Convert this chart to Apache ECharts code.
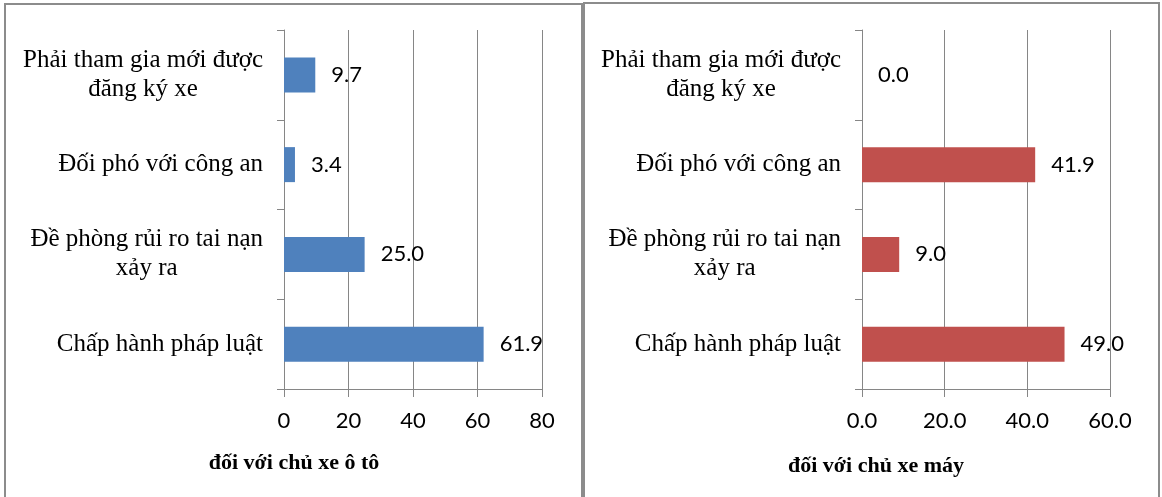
<!DOCTYPE html>
<html>
<head>
	<meta charset="UTF-8">
	<title>Lý do tham gia bảo hiểm</title>
	<script src="https://cdn.jsdelivr.net/npm/echarts@6/dist/echarts.min.js"></script>
	<style type="text/css">
		html, body {
			margin: 0;
			padding: 0;
			background: #ffffff;
		}
		#chart {
			width: 1162px;
			height: 497px;
		}
	</style>
</head>
<body>
	<div id="chart"></div>
	<script type="text/javascript">
		// du lieu (doc tu hinh)
		var categories = ['Phải tham gia mới được\nđăng ký xe', 'Đối phó với công an', 'Đề phòng rủi ro tai nạn\nxảy ra', 'Chấp hành pháp luật'];
		var otoValues = [9.7, 3.4, 25.0, 61.9];
		var xeMayValues = [0.0, 41.9, 9.0, 49.0];
		var otoTicks = [0, 20, 40, 60, 80];
		var xeMayTicks = [0, 20, 40, 60];
		var otoTitle = 'đối với chủ xe ô tô';
		var xeMayTitle = 'đối với chủ xe máy';

		var gray = '#868686';
		var serif = '"Liberation Serif", "Times New Roman", serif';
		var sans = 'Lato, "Open Sans", sans-serif';

		// nhan truc doc: moi dong canh giua, ca khoi canh phai
		var catLabel = function(val) {
			return val.split('\n').map(function(s) {
				return '{c|' + s + '}';
			}).join('\n');
		}

		var valueAxis = function(idx, ticks, fmt) {
			return {
				type: 'value',
				gridIndex: idx,
				min: ticks[0],
				max: ticks[ticks.length - 1],
				interval: ticks[1] - ticks[0],
				axisLine: { show: true, lineStyle: { color: gray, width: 1 } },
				axisTick: { show: true, length: 8, lineStyle: { color: gray } },
				splitLine: { show: true, lineStyle: { color: gray, width: 1 } },
				axisLabel: {
					margin: 21,
					color: '#000',
					fontSize: 22,
					fontFamily: sans,
					formatter: fmt
				}
			};
		}

		var catAxis = function(idx) {
			return {
				type: 'category',
				gridIndex: idx,
				inverse: true,
				data: categories,
				axisLine: { show: true, lineStyle: { color: gray, width: 1 } },
				axisTick: { show: true, length: 7, lineStyle: { color: gray } },
				splitLine: { show: false },
				axisLabel: {
					margin: 21,
					color: '#000',
					fontSize: 25,
					fontFamily: serif,
					lineHeight: 29,
					formatter: catLabel,
					rich: {
						c: { align: 'center', fontSize: 25, fontFamily: serif, lineHeight: 29, color: '#000' }
					}
				}
			};
		}

		var barSeries = function(idx, data, color) {
			return {
				type: 'bar',
				xAxisIndex: idx,
				yAxisIndex: idx,
				data: data,
				barWidth: 35,
				itemStyle: { color: color },
				label: {
					show: true,
					position: 'right',
					distance: 16,
					color: '#000',
					fontSize: 22,
					fontFamily: sans,
					formatter: function(p) {
						return p.value.toFixed(1);
					}
				}
			};
		}

		var chart = echarts.init(document.getElementById('chart'));
		var option = {
			animation: false,
			grid: [
				{ left: 284, top: 30, width: 258, height: 359 },
				{ left: 862, top: 30, width: 248, height: 359 }
			],
			xAxis: [
				valueAxis(0, otoTicks, function(v) { return String(v); }),
				valueAxis(1, xeMayTicks, function(v) { return v.toFixed(1); })
			],
			yAxis: [catAxis(0), catAxis(1)],
			series: [
				barSeries(0, otoValues, '#4F81BD'),
				barSeries(1, xeMayValues, '#C0504D')
			],
			graphic: [
				{
					type: 'rect', silent: true, z: -1,
					shape: { x: 5, y: 4, width: 577, height: 600 },
					style: { fill: 'none', stroke: '#8c8c8c', lineWidth: 2 }
				},
				{
					type: 'rect', silent: true, z: -1,
					shape: { x: 584, y: 3, width: 575, height: 600 },
					style: { fill: 'none', stroke: '#8c8c8c', lineWidth: 2 }
				},
				{
					type: 'text', silent: true, x: 294, y: 463,
					style: { text: otoTitle, fill: '#000', font: 'bold 22px ' + serif, textAlign: 'center', textVerticalAlign: 'middle' }
				},
				{
					type: 'text', silent: true, x: 876, y: 466,
					style: { text: xeMayTitle, fill: '#000', font: 'bold 22px ' + serif, textAlign: 'center', textVerticalAlign: 'middle' }
				}
			]
		};
		chart.setOption(option);
	</script>
</body>
</html>
